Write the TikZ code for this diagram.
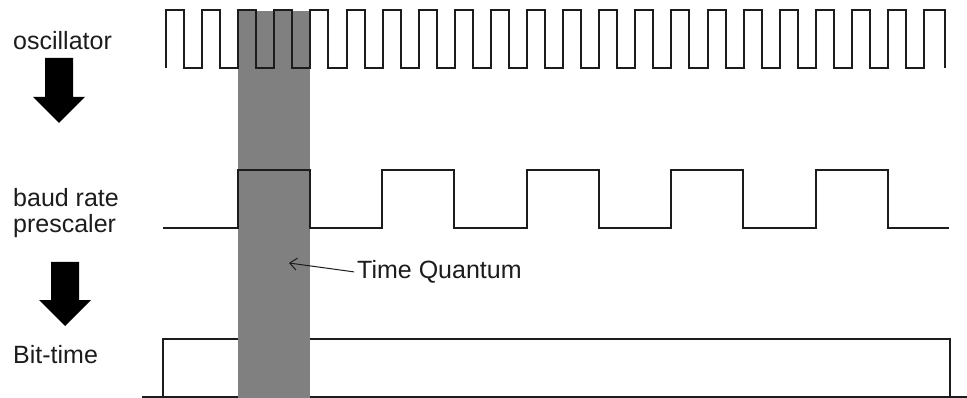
\documentclass[tikz,border=0pt]{standalone}
\usepackage{fontspec}
\setmainfont{Liberation Sans}
\usetikzlibrary{arrows.meta,positioning}

\definecolor{quantum}{RGB}{128,128,128}
\definecolor{ink}{RGB}{28,28,28}

\begin{document}
\begin{tikzpicture}[x=1pt,y=-1pt,
  lbl/.style={anchor=base west,inner sep=0pt,text=ink,font=\fontsize{25}{30}\selectfont},
  sig/.style={draw=ink,line width=2pt,line join=miter},
  qarrow/.style={draw=ink,line width=1pt,-{Straight Barb[length=7pt,width=12pt]}}]
\useasboundingbox (0,0) rectangle (967,398);
\pgfmathsetmacro{\p}{36.1}
\pgfmathsetmacro{\b}{144.4}

% bit-time (the quantum covers it)
\draw[sig] (142,397) -- (967,397);
\draw[sig] (163,397) |- (950,339) -- (950,397);

% time quantum
\fill[quantum] (238,11) rectangle (310,398);

% oscillator
\draw[sig] (166,68) \foreach \i in {0,...,20} {
    -- ++(0,-58) -- ++(18,0) -- ++(0,58) -- ++(\p-18,0)
  } -- ++(0,-58) -- ++(21,0) -- ++(0,58);

% baud rate prescaler
\draw[sig] (163,228) \foreach \i in {0,...,4} {
    -| ({238+\i*\b},170) -| ({310+\i*\b},228)
  } -- (949,228);

% labels
\node[lbl] (osc) at (13,50) {oscillator};
\node[lbl] (baud) at (13,207) {baud rate};
\node[lbl] (pre) at (13,233) {prescaler};
\node[lbl] (bit) at (13,363) {Bit-time};
\node[lbl] (tq) at (357,279) {Time Quantum};

\coordinate (tqtip) at (289,263);
\draw[qarrow,shorten <=3pt] (tq.west) -- (tqtip);

% block arrows
\foreach \x/\y/\s in {59/58/39, 65/262/38} {
    \fill[black] (\x-14,\y) -- ++(28,0) -- ++(0,\s) -- ++(12,0)
      -- (\x,\y+\s+26) -- (\x-26,\y+\s) -- ++(12,0) -- cycle;
}
\end{tikzpicture}
\end{document}
